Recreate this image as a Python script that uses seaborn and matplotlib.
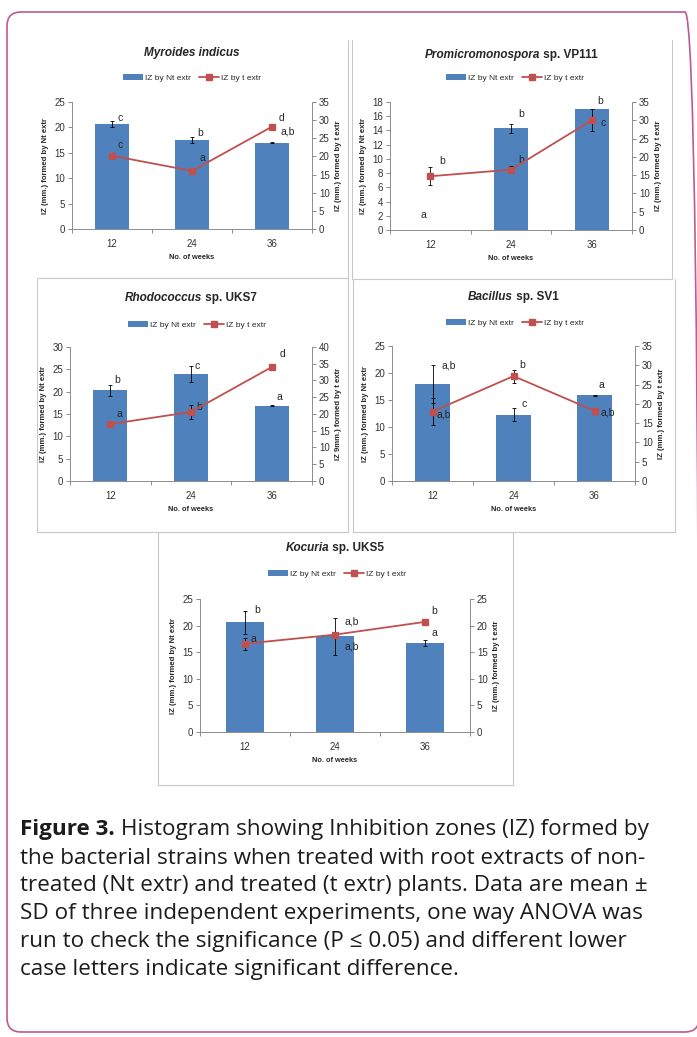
import numpy as np
import pandas as pd
import matplotlib
matplotlib.use("Agg")
import matplotlib.pyplot as plt
import seaborn as sns
from matplotlib.patches import FancyBboxPatch, Patch
from matplotlib.lines import Line2D
from matplotlib.offsetbox import TextArea, HPacker, AnnotationBbox
from matplotlib.transforms import IdentityTransform

sns.set_style("ticks")
plt.rcParams['font.family'] = ['Liberation Sans', 'DejaVu Sans']

# data
weeks = ["12", "24", "36"]

myro_nt = [20.6, 17.6, 17.0]
myro_nt_sd = [0.6, 0.6, 0.1]
myro_t = [20.2, 16.0, 28.2]
myro_t_sd = [0.6, 0.5, 0.8]
myro_nt_let = ["c", "b", "a,b"]
myro_t_let = ["c", "a", "d"]

promi_nt = [0.0, 14.3, 17.0]
promi_nt_sd = [0.0, 0.6, 0.0]
promi_t = [14.7, 16.5, 30.0]
promi_t_sd = [2.5, 1.0, 3.0]
promi_nt_let = ["a", "b", "b"]
promi_t_let = ["b", "b", "c"]

rhodo_nt = [20.3, 23.9, 16.9]
rhodo_nt_sd = [1.2, 1.8, 0.1]
rhodo_t = [17.0, 20.6, 34.0]
rhodo_t_sd = [0.5, 2.2, 0.5]
rhodo_nt_let = ["b", "c", "a"]
rhodo_t_let = ["a", "b", "d"]

bacil_nt = [18.0, 12.3, 15.9]
bacil_nt_sd = [3.5, 1.2, 0.1]
bacil_t = [18.0, 27.2, 18.2]
bacil_t_sd = [3.4, 1.7, 0.4]
bacil_nt_let = ["a,b", "c", "a"]
bacil_t_let = ["a,b", "b", "a,b"]

kocur_nt = [20.6, 18.0, 16.7]
kocur_nt_sd = [2.2, 3.5, 0.5]
kocur_t = [16.6, 18.3, 20.7]
kocur_t_sd = [1.1, 0.5, 0.3]
kocur_nt_let = ["b", "a,b", "a"]
kocur_t_let = ["a", "a,b", "b"]

BLUE = "#4f81bd"
RED = "#c0504d"
GRAY = "#8c8c8c"
FRAME = "#c8c8c8"
NARROW = ['Liberation Sans Narrow', 'Liberation Sans', 'DejaVu Sans']

W, H = 697, 1037
fig = plt.figure(figsize=(W / 100, H / 100), dpi=100)


def px(x0, y0, x1, y1):
    return [x0 / W, 1 - y1 / H, (x1 - x0) / W, (y1 - y0) / H]


def errbars(ax, vals, sds, zorder):
    idx = [i for i, s in enumerate(sds) if s > 0]
    ax.errorbar(idx, [vals[i] for i in idx], yerr=[sds[i] for i in idx],
                fmt="none", ecolor="black", elinewidth=0.6, capsize=1.5,
                capthick=0.6, zorder=zorder)


def panel(box, title, legend_xy, nt, nt_sd, t, t_sd, ylim_l, ylim_r, rlabel,
          nt_let, t_let, nt_pos, t_pos):
    ax = fig.add_axes(px(*box))
    sns.barplot(x=weeks, y=nt, color=BLUE, saturation=1, width=0.42,
                errorbar=None, linewidth=0, ax=ax)
    errbars(ax, nt, nt_sd, 3)
    ax2 = ax.twinx()
    sns.pointplot(x=weeks, y=t, color=RED, markers="s", errorbar=None,
                  markersize=5, linewidth=1.3, ax=ax2)
    errbars(ax2, t, t_sd, 1)

    ax.set_xlim(-0.5, 2.5)
    ax.set_ylim(0, ylim_l[0])
    ax.set_yticks(np.arange(0, ylim_l[0] + 0.1, ylim_l[1]))
    ax2.set_ylim(0, ylim_r[0])
    ax2.set_yticks(np.arange(0, ylim_r[0] + 0.1, ylim_r[1]))

    for a in (ax, ax2):
        for s in a.spines.values():
            s.set_visible(False)
    ax.spines["left"].set_visible(True)
    ax.spines["bottom"].set_visible(True)
    ax2.spines["right"].set_visible(True)
    for s in (ax.spines["left"], ax.spines["bottom"], ax2.spines["right"]):
        s.set_color(GRAY)
        s.set_linewidth(0.7)

    ax.set_xticks([0, 1, 2], weeks)
    ax.set_xticks([-0.5, 0.5, 1.5, 2.5], minor=True)
    ax.tick_params(axis="x", which="major", length=0, pad=7, labelsize=7)
    ax.tick_params(axis="x", which="minor", length=3, width=0.7, color=GRAY,
                   direction="out")
    ax.tick_params(axis="y", length=3, width=0.7, color=GRAY, labelsize=7,
                   pad=2, direction="out")
    ax2.tick_params(axis="y", length=3, width=0.7, color=GRAY, labelsize=7,
                    pad=2, direction="out")
    for lab in ax.get_xticklabels() + ax.get_yticklabels() + ax2.get_yticklabels():
        lab.set_family(NARROW)
        lab.set_color("#333333")

    ax.set_xlabel("No. of weeks", fontsize=5.3, fontweight="bold",
                  family=NARROW, labelpad=4)
    ax.set_ylabel("IZ (mm.) formed by Nt extr", fontsize=5.6,
                  fontweight="bold", labelpad=4)
    ax2.set_ylabel(rlabel, fontsize=5.6, fontweight="bold", labelpad=4)

    for i, (s, (dx, y)) in enumerate(zip(nt_let, nt_pos)):
        ax.text(i + dx, y, s, ha="center", va="center", fontsize=7.5,
                family=NARROW, zorder=5)
    for i, (s, (dx, y)) in enumerate(zip(t_let, t_pos)):
        ax.text(i + dx, y, s, ha="center", va="center", fontsize=7.5,
                family=NARROW, zorder=5)

    # title with italic genus
    parts = [TextArea(title[0], textprops=dict(style="italic", weight="bold",
                                                 size=8.5, family=NARROW))]
    if title[1]:
        parts.append(TextArea(title[1], textprops=dict(weight="bold", size=8.5,
                                                       family=NARROW)))
    pack = HPacker(children=parts, align="baseline", pad=0, sep=0)
    cx = (box[0] + box[2]) / 2
    fig.add_artist(AnnotationBbox(pack, (cx / W, 1 - title[2] / H),
                                  xycoords="figure fraction", frameon=False,
                                  box_alignment=(0.5, 0.5)))

    handles = [Patch(facecolor=BLUE, linewidth=0),
               Line2D([], [], color=RED, lw=1.3, marker="s", markersize=4.5)]
    fig.legend(handles, ["IZ by Nt extr", "IZ by t extr"], loc="center",
               bbox_to_anchor=(legend_xy[0] / W, 1 - legend_xy[1] / H),
               ncol=2, frameon=False, handlelength=2.4, handleheight=0.7,
               handletextpad=0.2, columnspacing=1.0,
               prop=dict(family=NARROW, size=6))
    return ax


panel((72, 102, 312, 229), ("Myroides indicus", "", 53), (192, 78),
      myro_nt, myro_nt_sd, myro_t, myro_t_sd, (25, 5), (35, 5),
      "IZ (mm.) formed by t extr", myro_nt_let, myro_t_let,
      [(0.1, 21.9), (0.1, 18.9), (0.19, 19.1)],
      [(0.1, 16.5), (0.13, 14.0), (0.12, 21.9)])

panel((390, 102, 632, 230), ("Promicromonospora", " sp. VP111", 55), (515, 78),
      promi_nt, promi_nt_sd, promi_t, promi_t_sd, (18, 2), (35, 5),
      "IZ (mm.) formed by t extr", promi_nt_let, promi_t_let,
      [(-0.09, 2.1), (0.12, 16.3), (0.11, 18.1)],
      [(0.15, 9.7), (0.12, 9.8), (0.14, 15.0)])

panel((70, 347, 312, 481), ("Rhodococcus", " sp. UKS7", 298), (197, 325),
      rhodo_nt, rhodo_nt_sd, rhodo_t, rhodo_t_sd, (30, 5), (40, 5),
      "IZ 9mm.) formed by t extr", rhodo_nt_let, rhodo_t_let,
      [(0.08, 22.6), (0.08, 25.7), (0.09, 18.8)],
      [(0.11, 15.0), (0.1, 16.6), (0.13, 28.4)])

panel((392, 346, 635, 481), ("Bacillus", " sp. SV1", 297), (515, 323),
      bacil_nt, bacil_nt_sd, bacil_t, bacil_t_sd, (25, 5), (35, 5),
      "IZ (mm.) formed by t extr", bacil_nt_let, bacil_t_let,
      [(0.2, 21.3), (0.13, 14.3), (0.09, 17.8)],
      [(0.14, 12.4), (0.11, 21.5), (0.16, 12.6)])

panel((200, 599, 470, 732), ("Kocuria", " sp. UKS5", 548), (337, 574),
      kocur_nt, kocur_nt_sd, kocur_t, kocur_t_sd, (25, 5), (25, 5),
      "IZ (mm.) formed by t extr", kocur_nt_let, kocur_t_let,
      [(0.13, 22.9), (0.18, 16.0), (0.1, 18.6)],
      [(0.09, 17.5), (0.18, 20.7), (0.1, 22.8)])

# thin grey panel frames
frame_lines = [
    [(37, 278), (348, 278)], [(348, 40), (348, 278)],
    [(352, 40), (352, 279), (672, 279), (672, 40)],
    [(37, 279), (37, 532), (348, 532), (348, 279)],
    [(353, 279), (353, 532), (675, 532), (675, 279)],
    [(158, 532), (158, 785), (513, 785), (513, 532)],
]
for pts in frame_lines:
    xs = [p[0] / W for p in pts]
    ys = [1 - p[1] / H for p in pts]
    fig.add_artist(Line2D(xs, ys, color=FRAME, lw=0.8))

# rounded page border
border = FancyBboxPatch((7, 5), 692, 1020, boxstyle="round,pad=0,rounding_size=14",
                        transform=IdentityTransform(), fill=False,
                        edgecolor="#bd5a93", linewidth=1.2)
fig.patches.append(border)

# caption
cap_size = 16.2
cap_font = ["Open Sans", "DejaVu Sans"]
cap_lines = [
    "the bacterial strains when treated with root extracts of non-",
    "treated (Nt extr) and treated (t extr) plants. Data are mean \u00b1",
    "SD of three independent experiments, one way ANOVA was",
    "run to check the significance (P \u2264 0.05) and different lower",
    "case letters indicate significant difference.",
]
renderer = fig.canvas.get_renderer()
x0, y0, step = 20, 830, 28
head = fig.text(x0 / W, 1 - y0 / H, "Figure 3.", fontsize=cap_size,
                fontweight="bold", family=cap_font, va="center",
                color="#1c1c1c")
bb = head.get_window_extent(renderer)
fig.text(bb.x1 / W, 1 - y0 / H, " Histogram showing Inhibition zones (IZ) formed by",
         fontsize=cap_size, family=cap_font, va="center", color="#1c1c1c")
for k, line in enumerate(cap_lines):
    fig.text(x0 / W, 1 - (y0 + step * (k + 1)) / H, line, fontsize=cap_size,
             family=cap_font, va="center", color="#1c1c1c")

fig.savefig("out.png", dpi=100)
